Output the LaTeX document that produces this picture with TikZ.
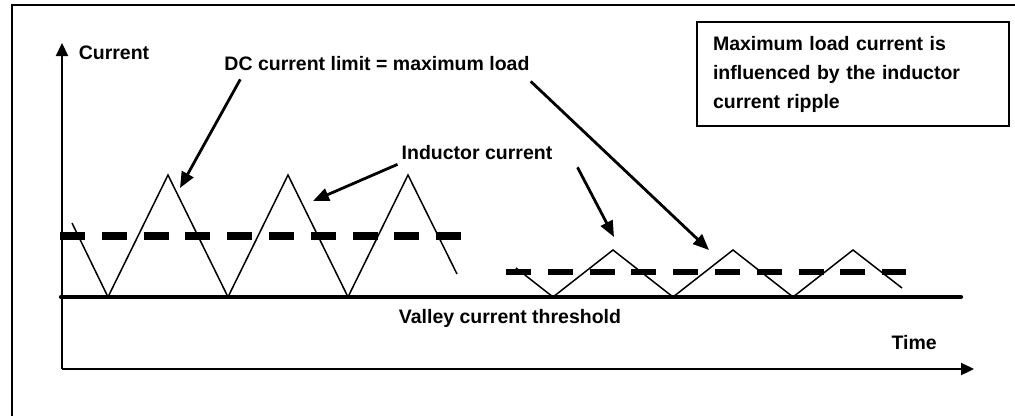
\documentclass[tikz,border=0pt]{standalone}
\usepackage{fontspec}
\setmainfont{Liberation Sans}
\usetikzlibrary{arrows.meta, positioning}

\begin{document}
\begin{tikzpicture}[
  x=1pt, y=-1pt,
  lbl/.style    = {font=\fontsize{19.5}{23}\selectfont\bfseries, inner sep=1pt},
  note/.style   = {draw, line width=1.6pt, text width=280pt, inner xsep=16pt,
                   minimum height=104pt, align=left,
                   font=\fontsize{19.5}{29}\selectfont\bfseries},
  axis/.style   = {-{Triangle[length=13pt, width=12pt]}, line width=2.3pt},
  arr/.style    = {-{Triangle[length=16pt, width=13pt]}, line width=2.8pt},
  wave/.style   = {line width=1.5pt, line join=miter},
  dcline/.style = {dash pattern=on 25pt off 16.8pt},
]
\useasboundingbox (0,0) rectangle (1015,416);
\draw[line width=2pt] (12,416) -- (12,5) -- (1015,5);

\coordinate (O)    at (62,369);
\coordinate (ytop) at (62,43);
\coordinate (xend) at (974,369);
\draw[axis] (O) -- (ytop);
\draw[axis] (O) -- (xend);
\draw[line width=4.3pt, line cap=round] (61,297) -- (961,297);

\draw[dcline, line width=8pt] (60,236) -- (463,236);
\draw[dcline, line width=6pt] (506,272) -- (906,272);
\draw[wave] (72,223) -- (108,297) -- (168,175) -- (228,297) -- (288,175)
  -- (348,297) -- (408,175) -- (457,274);
\draw[wave] (516,268) -- (553,297) -- (613,250) -- (673,297) -- (733,250)
  -- (793,297) -- (853,250) -- (902,288);

\node[lbl] (current) at (114,53)  {Current};
\node[lbl] (dclim)   at (377,64)  {DC current limit = maximum load};
\node[lbl] (ind)     at (477,153) {Inductor current};
\node[lbl] (valley)  at (510,318) {Valley current threshold};
\node[lbl, above left=18pt and 36pt of xend] (time) {Time};
\node[note] (note) at (853,74)
  {Maximum load current is\\influenced by the inductor\\current ripple};

\coordinate (tipA) at (180,188);
\coordinate (tipB) at (313,201);
\coordinate (tipC) at (614,237);
\coordinate (tipD) at (709,250);
\draw[arr] ([xshift=17pt, yshift=-7pt]dclim.south west) -- (tipA);
\draw[arr] ([xshift=0pt,  yshift=-9pt]dclim.south east) -- (tipD);
\draw[arr] ([xshift=-3pt, yshift=-3pt]ind.south west)   -- (tipB);
\draw[arr] ([xshift=24pt, yshift=-6pt]ind.south east)   -- (tipC);
\end{tikzpicture}
\end{document}
